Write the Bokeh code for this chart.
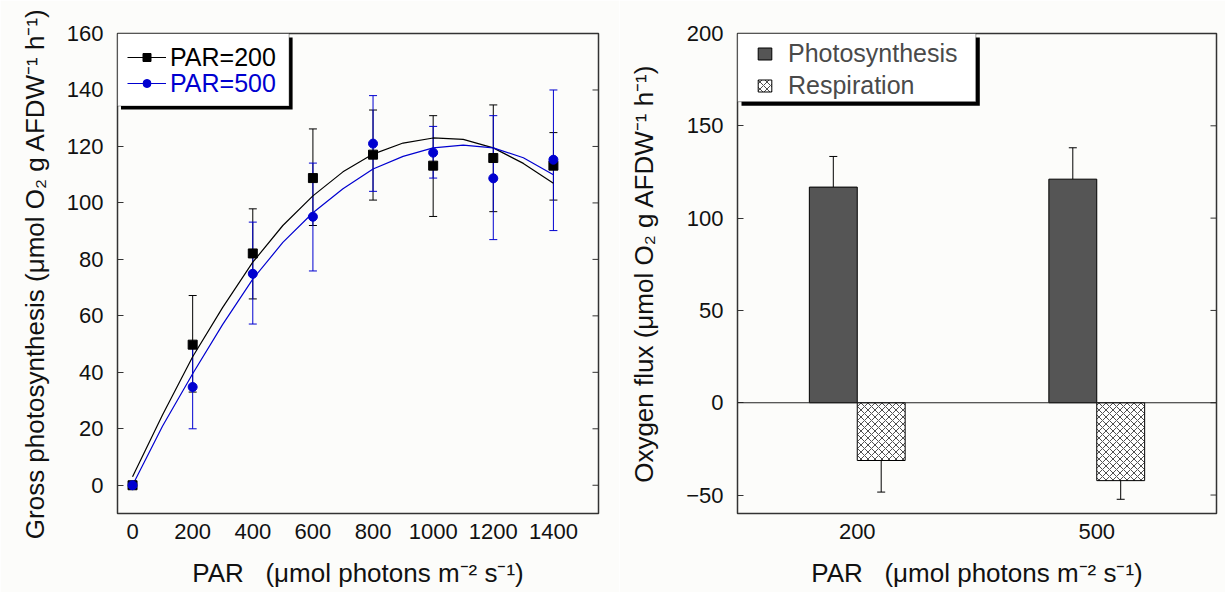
from bokeh.plotting import figure
from bokeh.layouts import row
from bokeh.models import (Range1d, FactorRange, FixedTicker, Whisker, TeeHead,
                          ColumnDataSource, Legend, LegendItem, Span, BoxAnnotation)
from bokeh.transform import dodge
from bokeh.embed import file_html
from bokeh.resources import INLINE

FONT = "Liberation Sans"
BG = "#fcfcfa"
BLUE = "#0000d0"
DARK = "#333333"

# ---------------- Left panel data ----------------
par = [0, 200, 400, 600, 800, 1000, 1200, 1400]
gp_200 = [0, 49.8, 82.1, 108.8, 117.1, 113.2, 115.9, 113.2]
gp_200_lo = [0, 33.0, 66.0, 92.0, 101.0, 95.2, 96.9, 101.0]
gp_200_hi = [0, 67.2, 97.9, 126.2, 132.9, 130.9, 134.7, 124.9]
gp_500 = [0, 34.8, 74.9, 95.1, 121.0, 117.8, 108.7, 115.3]
gp_500_lo = [0, 20.0, 57.1, 75.9, 104.1, 108.8, 87.0, 90.2]
gp_500_hi = [0, 49.6, 93.2, 114.1, 138.0, 127.1, 130.9, 140.0]

# fitted curves
fit_par = [0, 100, 200, 300, 400, 500, 600, 700, 800, 900, 1000, 1100, 1200, 1300, 1400]
fit_200 = [3.0, 25.0, 45.5, 63.0, 79.0, 92.0, 102.5, 111.0, 117.3, 121.2, 123.0, 122.5, 119.5, 114.0, 107.0]
fit_500 = [0.0, 21.0, 39.5, 57.0, 73.0, 86.0, 96.5, 105.0, 112.0, 116.5, 119.5, 120.5, 119.5, 116.0, 110.0]

left_xticks = [0, 200, 400, 600, 800, 1000, 1200, 1400]
left_yticks = [0, 20, 40, 60, 80, 100, 120, 140, 160]

# ---------------- Right panel data ----------------
par_levels = ["200", "500"]
photo = [116.8, 121.1]
photo_hi = [133.4, 138.1]
resp = [-31.3, -42.2]
resp_lo = [-48.4, -52.3]
right_yticks = [-50, 0, 50, 100, 150, 200]

X_TITLE = "PAR\u00a0\u00a0\u00a0(\u03bcmol photons m\u207b\u00b2 s\u207b\u00b9)"
Y1_TITLE = "Gross photosynthesis (\u03bcmol O\u2082 g AFDW\u207b\u00b9 h\u207b\u00b9)"
Y2_TITLE = "Oxygen flux (\u03bcmol O\u2082 g AFDW\u207b\u00b9 h\u207b\u00b9)"

H = 592
BT, BB = 33, 79


def style_axis(ax, tick_in=6):
    ax.axis_line_color = None
    ax.major_tick_in = tick_in
    ax.major_tick_out = 0
    ax.major_tick_line_color = DARK
    ax.minor_tick_line_color = None
    ax.major_label_text_font = FONT
    ax.major_label_text_font_size = "22px"
    ax.major_label_text_color = "#111111"
    ax.axis_label_text_font = FONT
    ax.axis_label_text_font_size = "26px"
    ax.axis_label_text_font_style = "normal"
    ax.axis_label_text_color = "#111111"


def base_fig(width, x_range, y_range, bl, br):
    p = figure(width=width, height=H, x_range=x_range, y_range=y_range,
               output_backend="svg", toolbar_location=None,
               min_border_left=bl, min_border_right=br, min_border_top=BT, min_border_bottom=BB,
               background_fill_color=BG, border_fill_color=BG)
    p.xgrid.visible = False
    p.ygrid.visible = False
    p.outline_line_color = DARK
    p.outline_line_width = 1.5
    return p


# ================= Left figure =================
X0, X1, Y0, Y1 = -50, 1550, -10, 160
W1, BL1, BR1 = 619, 117, 21
p1 = base_fig(W1, Range1d(X0, X1), Range1d(Y0, Y1), BL1, BR1)
FW1, FH1 = W1 - BL1 - BR1, H - BT - BB

style_axis(p1.xaxis[0], tick_in=0)
p1.xaxis[0].ticker = FixedTicker(ticks=left_xticks)
p1.xaxis[0].major_label_standoff = 10
p1.xaxis[0].axis_label = X_TITLE
p1.xaxis[0].axis_label_standoff = 16
style_axis(p1.yaxis[0])
p1.yaxis[0].ticker = FixedTicker(ticks=left_yticks)
p1.yaxis[0].major_label_standoff = 14
p1.yaxis[0].axis_label = Y1_TITLE
p1.yaxis[0].axis_label_standoff = 14

# inward ticks on the right edge of the frame (half of each dash is clipped)
p1.scatter([X1] * len(left_yticks), left_yticks, marker="dash", size=12,
           line_color=DARK, line_width=1)

l200 = p1.line(fit_par, fit_200, line_color="black", line_width=1.2)
l500 = p1.line(fit_par, fit_500, line_color=BLUE, line_width=1.2)

src200 = ColumnDataSource(dict(x=par[1:], lo=gp_200_lo[1:], hi=gp_200_hi[1:]))
src500 = ColumnDataSource(dict(x=par[1:], lo=gp_500_lo[1:], hi=gp_500_hi[1:]))
for src, col in ((src200, "black"), (src500, BLUE)):
    p1.add_layout(Whisker(source=src, base="x", lower="lo", upper="hi", dimension="height",
                          line_color=col, line_width=1,
                          upper_head=TeeHead(size=8, line_color=col, line_width=1),
                          lower_head=TeeHead(size=8, line_color=col, line_width=1)))

s200 = p1.scatter(par, gp_200, marker="square", size=9, fill_color="black", line_color="black")
s500 = p1.scatter(par, gp_500, marker="circle", size=9, fill_color=BLUE, line_color=BLUE)


def fx1(px):
    return X0 + px * (X1 - X0) / FW1


def fy1(py):
    return Y1 - py * (Y1 - Y0) / FH1


# legend frame + shadow (pixel offsets inside the frame)
p1.add_layout(BoxAnnotation(left=fx1(3.5), right=fx1(175.1), top=fy1(4.0), bottom=fy1(76.0),
                            fill_color="black", fill_alpha=1, line_color=None))
p1.add_layout(BoxAnnotation(left=fx1(0), right=fx1(171.6), top=fy1(0), bottom=fy1(72.5),
                            fill_color="white", fill_alpha=1, line_color="black", line_width=1.2))

common_leg = dict(border_line_color=None, background_fill_alpha=0, padding=0, margin=0,
                  spacing=0, glyph_width=39, glyph_height=20, label_height=29, label_standoff=4,
                  label_text_font=FONT, label_text_font_size="25px")
leg_a = Legend(items=[LegendItem(label="PAR=200", renderers=[l200, s200])],
               location=(10, FH1 - 38.5), label_text_color="black", **common_leg)
leg_b = Legend(items=[LegendItem(label="PAR=500", renderers=[l500, s500])],
               location=(10, FH1 - 64.5), label_text_color=BLUE, **common_leg)
p1.add_layout(leg_a)
p1.add_layout(leg_b)

# ================= Right figure =================
RY0, RY1 = -60, 200
W2, BL2, BR2 = 606, 118, 9
p2 = base_fig(W2, FactorRange(factors=par_levels, range_padding=0), Range1d(RY0, RY1), BL2, BR2)
FW2, FH2 = W2 - BL2 - BR2, H - BT - BB

style_axis(p2.xaxis[0], tick_in=0)
p2.xaxis[0].major_label_standoff = 10
p2.xaxis[0].axis_label = X_TITLE
p2.xaxis[0].axis_label_standoff = 16
style_axis(p2.yaxis[0])
p2.yaxis[0].ticker = FixedTicker(ticks=right_yticks)
p2.yaxis[0].major_label_standoff = 14
p2.yaxis[0].axis_label = Y2_TITLE
p2.yaxis[0].axis_label_standoff = 24

X2_END = float(len(par_levels))  # synthetic end of the categorical range
p2.scatter([X2_END] * len(right_yticks), right_yticks, marker="dash", size=12,
           line_color=DARK, line_width=1)

bsrc = ColumnDataSource(dict(par=par_levels, photo=photo, photo_hi=photo_hi, resp=resp, resp_lo=resp_lo))

p2.add_layout(Span(location=0, dimension="width", line_color="#222222", line_width=1.2))

vb_p = p2.vbar(x=dodge("par", -0.1, range=p2.x_range), top="photo", bottom=0, width=0.2,
               source=bsrc, fill_color="#555555", line_color="black", line_width=1)
vb_r = p2.vbar(x=dodge("par", 0.1, range=p2.x_range), top=0, bottom="resp", width=0.2,
               source=bsrc, fill_color="white", line_color="black", line_width=1,
               hatch_pattern="diagonal_cross", hatch_color="#222222", hatch_scale=7, hatch_weight=0.8)

p2.add_layout(Whisker(source=bsrc, base=dodge("par", -0.1, range=p2.x_range), lower="photo", upper="photo_hi",
                      dimension="height", line_color="black", line_width=1,
                      upper_head=TeeHead(size=8, line_color="black", line_width=1), lower_head=None))
p2.add_layout(Whisker(source=bsrc, base=dodge("par", 0.1, range=p2.x_range), lower="resp_lo", upper="resp",
                      dimension="height", line_color="black", line_width=1,
                      lower_head=TeeHead(size=8, line_color="black", line_width=1), upper_head=None))


def fy2(py):
    return RY1 - py * (RY1 - RY0) / FH2


def fx2(px):
    return px * X2_END / FW2


p2.add_layout(BoxAnnotation(left=fx2(4.0), right=fx2(242.3), top=fy2(4.0), bottom=fy2(72.2),
                            fill_color="black", fill_alpha=1, line_color=None))
p2.add_layout(BoxAnnotation(left=fx2(0), right=fx2(238.3), top=fy2(0), bottom=fy2(68.2),
                            fill_color="white", fill_alpha=1, line_color="black", line_width=1.2))

leg_r = Legend(items=[LegendItem(label="Photosynthesis", renderers=[vb_p]),
                      LegendItem(label="Respiration", renderers=[vb_r])],
               location=(19, FH2 - 67), border_line_color=None, background_fill_alpha=0,
               padding=0, margin=0, spacing=3, glyph_width=17, glyph_height=15, label_height=29,
               label_standoff=15, label_text_font=FONT, label_text_font_size="25px",
               label_text_color="#4a4a4a")
p2.add_layout(leg_r)

layout = row(p1, p2)
open("out.html", "w").write(file_html(layout, INLINE))
